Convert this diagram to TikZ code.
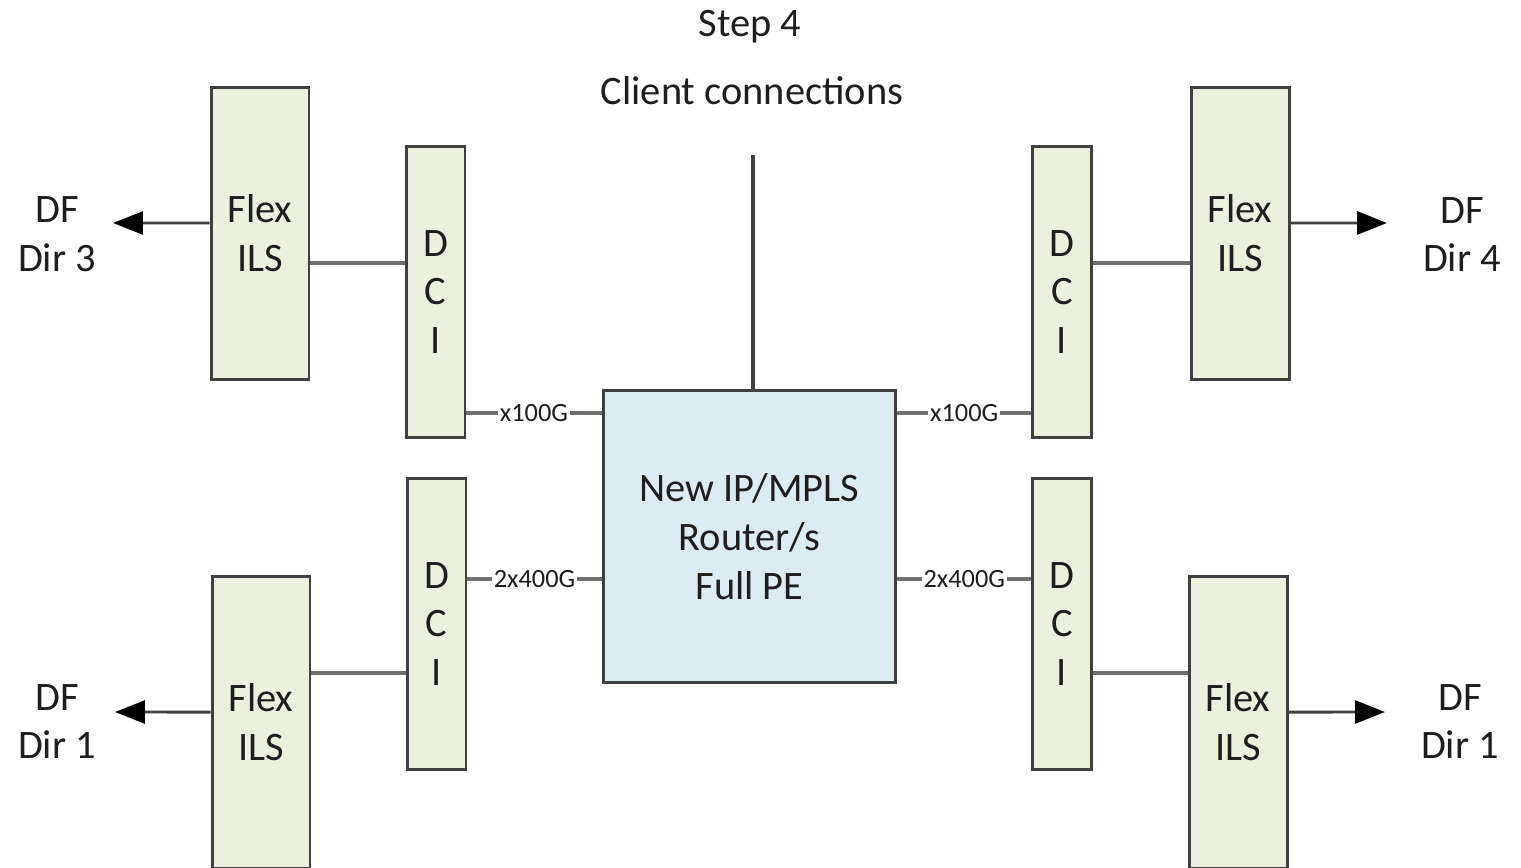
\documentclass[tikz,border=0pt]{standalone}
\usepackage{fontspec}
\setmainfont{Carlito}
\usepackage{tikz}
\usetikzlibrary{arrows.meta}

\definecolor{ilsfill}{HTML}{EBF1DE}
\definecolor{pefill}{HTML}{DDEBF3}
\definecolor{edge}{HTML}{404040}
\definecolor{wire}{HTML}{6F6F6F}
\definecolor{ink}{HTML}{1E1E1E}

\tikzset{
  unit/.style={draw=edge, line width=1.7pt, align=center, inner sep=0pt, text=ink},
  flexbox/.style={unit, fill=ilsfill, minimum width=1.96cm, minimum height=5.86cm},
  dcibox/.style={unit, fill=ilsfill, minimum width=1.18cm, minimum height=5.84cm},
  pebox/.style={unit, fill=pefill, minimum width=5.86cm, minimum height=5.86cm},
  dflabel/.style={align=center, text=ink, inner sep=0pt},
  link/.style={draw=wire, line width=1.8pt},
  fibre/.style={draw=edge, line width=1.7pt, -{Triangle[length=17pt,width=13pt,color=black]}},
  rate/.style={fill=white, inner sep=1pt, text=ink, font=\fontsize{15}{18}\selectfont}
}

\begin{document}
\begin{tikzpicture}[x=0.02cm, y=-0.02cm, font=\fontsize{23}{27.8}\selectfont]
\useasboundingbox (0,0) rectangle (1521,868);

% title
\node[text=ink] (step) at (750,27) {Step 4};
\node[text=ink] (client) at (752,91) {Client connections};
\coordinate (feed) at (753,155);

% router in the middle
\node[pebox] (pe) at (749.5,536.5) {New IP/MPLS\\Router/s\\Full PE};
\draw[link, draw=edge] (feed) -- (feed |- pe.north);

% left side
\node[flexbox] (flex3) at (260,233.5) {Flex\\ILS};
\node[dcibox] (dci3) at (435.5,292) {D\\C\\I};
\node[dflabel] (df3) at (57,234.5) {DF\\Dir 3};
\coordinate (tip3) at (113,223);
\node[dcibox] (dci1) at (436.5,624) {D\\C\\I};
\node[flexbox] (flex1) at (261,722.5) {Flex\\ILS};
\node[dflabel] (df1) at (57,721.5) {DF\\Dir 1};
\coordinate (tip1) at (115,712);

% right side
\node[flexbox] (flex4) at (1240,233.5) {Flex\\ILS};
\node[dcibox] (dci4) at (1062,292) {D\\C\\I};
\node[dflabel] (df4) at (1462,234.5) {DF\\Dir 4};
\coordinate (tip4) at (1387,223);
\node[dcibox] (dci2) at (1062,624) {D\\C\\I};
\node[flexbox] (flex2) at (1238,722.5) {Flex\\ILS};
\node[dflabel] (df2) at (1460,721.5) {DF\\Dir 1};
\coordinate (tip2) at (1385,712);

% ILS to DCI
\draw[link] ([yshift=-0.59cm]flex3.east) -- ([yshift=-0.59cm]flex3.east -| dci3.west);
\draw[link] ([yshift=0.99cm]flex1.east) -- ([yshift=0.99cm]flex1.east -| dci1.west);
\draw[link] ([yshift=-0.59cm]dci4.east |- flex4.west) -- ([yshift=-0.59cm]flex4.west);
\draw[link] ([yshift=0.99cm]dci2.east |- flex2.west) -- ([yshift=0.99cm]flex2.west);

% DCI to router
\draw[link] ([yshift=-2.42cm]dci3.east) -- ([yshift=-2.42cm]dci3.east -| pe.west) node[midway, rate] {x100G};
\draw[link] ([yshift=0.9cm]dci1.east) -- ([yshift=0.9cm]dci1.east -| pe.west) node[midway, rate] {2x400G};
\draw[link] ([yshift=-2.42cm]dci4.west -| pe.east) -- ([yshift=-2.42cm]dci4.west) node[midway, rate] {x100G};
\draw[link] ([yshift=0.9cm]dci2.west -| pe.east) -- ([yshift=0.9cm]dci2.west) node[midway, rate] {2x400G};

% out to the fibre
\draw[fibre] ([yshift=0.21cm]flex3.west) -- (tip3);
\draw[fibre] ([yshift=0.21cm]flex1.west) -- (tip1);
\draw[fibre] ([yshift=0.21cm]flex4.east) -- (tip4);
\draw[fibre] ([yshift=0.21cm]flex2.east) -- (tip2);
\end{tikzpicture}
\end{document}
